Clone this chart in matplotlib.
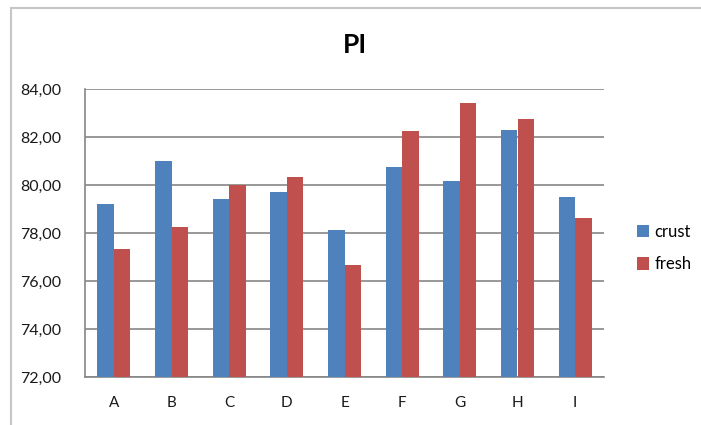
import numpy as np
import matplotlib.pyplot as plt
from matplotlib.lines import Line2D
from matplotlib.ticker import FuncFormatter

plt.rcParams['font.family'] = ['Lato', 'DejaVu Sans']

categories = ['A', 'B', 'C', 'D', 'E', 'F', 'G', 'H', 'I']
crust = [79.21, 81.02, 79.41, 79.71, 78.12, 80.77, 80.16, 82.31, 79.48]
fresh = [77.33, 78.24, 80.02, 80.34, 76.65, 82.24, 83.40, 82.74, 78.62]

BLUE = '#4F81BD'
RED = '#C0504D'
GRID = '#868686'

fig = plt.figure(figsize=(7.01, 4.25), dpi=100)
ax = fig.add_axes([85 / 701, 1 - 377 / 425, (604 - 85) / 701, (377 - 89) / 425])

x = np.arange(len(categories))
w = 1 / 3.5  # gap width 150%
ax.bar(x - w / 2, crust, width=w, color=BLUE, label='crust', zorder=3)
ax.bar(x + w / 2, fresh, width=w, color=RED, label='fresh', zorder=3)

ax.set_xlim(-0.5, len(categories) - 0.5)
ax.set_ylim(72, 84)
ax.set_yticks(np.arange(72, 84.1, 2))
ax.yaxis.set_major_formatter(FuncFormatter(lambda v, p: f'{v:.2f}'.replace('.', ',')))
ax.set_xticks(x)
ax.set_xticklabels(categories)

ax.grid(axis='y', color=GRID, linewidth=1.2, zorder=0)
for side in ['top', 'right']:
    ax.spines[side].set_visible(False)
for side in ['left', 'bottom']:
    ax.spines[side].set_color(GRID)
    ax.spines[side].set_linewidth(1.2)

ax.tick_params(axis='y', length=0, pad=17, labelsize=11.5, labelcolor='#1a1a1a')
ax.tick_params(axis='x', length=0, pad=14, labelsize=11, labelcolor='#1a1a1a')

fig.text(355 / 701, 1 - 45 / 425, 'PI', ha='center', va='center',
         fontsize=19, fontweight='bold', color='black')

ax.legend(loc='center left', bbox_to_anchor=(630 / 701, 1 - 248 / 425),
          bbox_transform=fig.transFigure, frameon=False, fontsize=12,
          handlelength=0.75, handleheight=0.75, handletextpad=0.3,
          labelspacing=1.0, borderaxespad=0)

# chart border (top and left edges)
fig.add_artist(Line2D([11 / 701, 1], [1 - 7.5 / 425, 1 - 7.5 / 425],
                      transform=fig.transFigure, color='#c6c6c6', linewidth=1.5))
fig.add_artist(Line2D([11 / 701, 11 / 701], [0, 1 - 7.5 / 425],
                      transform=fig.transFigure, color='#c6c6c6', linewidth=1.5))

fig.savefig('out.png', dpi=100, facecolor='white')
